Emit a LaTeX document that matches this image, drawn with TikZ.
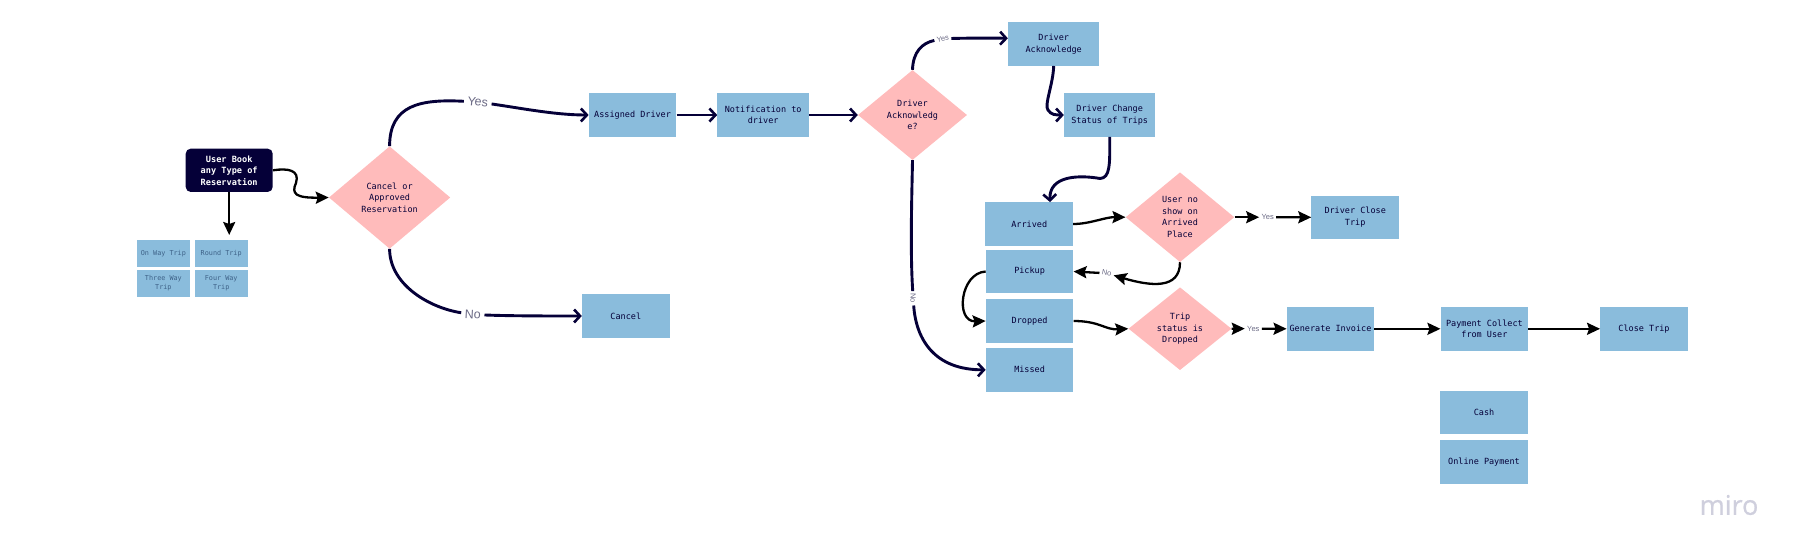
\documentclass[tikz,border=0pt]{standalone}
\usepackage{fontspec}
\setmainfont{Liberation Sans}
\setmonofont{DejaVu Sans Mono}
\usetikzlibrary{arrows.meta,shapes.geometric}
\definecolor{navy}{HTML}{050038}
\definecolor{boxblue}{HTML}{8ABCDC}
\definecolor{diapink}{HTML}{FFBBBB}
\definecolor{smalltxt}{HTML}{3E6288}
\definecolor{labelgray}{HTML}{6B6A85}
\definecolor{mirogray}{HTML}{CFCFDD}
\tikzset{
  boxnode/.style={fill=boxblue,minimum width=87.5pt,minimum height=43.5pt,inner sep=0pt,align=center,text=navy,
    font=\ttfamily\fontsize{8.5}{11.5}\selectfont},
  smallbox/.style={fill=boxblue,minimum width=53.2pt,minimum height=26.7pt,inner sep=0pt,align=center,text=smalltxt,
    font=\ttfamily\fontsize{6.8}{9}\selectfont},
  dianode/.style={fill=diapink,shape=diamond,inner sep=0pt,align=center,text=navy,
    font=\ttfamily\fontsize{8.5}{11.5}\selectfont},
  diatext/.style={align=center,text=navy,font=\ttfamily\fontsize{8.5}{11.5}\selectfont},
  startnode/.style={fill=navy,rounded corners=5pt,minimum width=87pt,minimum height=43.3pt,inner sep=0pt,align=center,text=white,
    font=\ttfamily\bfseries\fontsize{8.6}{11.5}\selectfont},
  biglabel/.style={inner sep=3.5pt,text=labelgray,font=\fontsize{12.5}{14}\selectfont},
  tinylabel/.style={inner sep=2.2pt,text=labelgray,font=\fontsize{7.5}{9}\selectfont},
  navyline/.style={draw=navy,line width=2.9pt,-{Straight Barb[length=6pt,width=13pt,line width=2.6pt]}},
  blackline/.style={draw=black,line width=2.3pt,-{Stealth[length=13pt,width=12pt,inset=2pt]}},
}
\begin{document}
\begin{tikzpicture}[x=1pt,y=-1pt]
\useasboundingbox (0,0) rectangle (1799,555);
% start and its options
\node[startnode] (user) at (229.2,170.3) {User Book\\any Type of\\Reservation};
\node[smallbox] (s1) at (163.4,253.3) {On Way Trip};
\node[smallbox] (s2) at (221.2,253.3) {Round Trip};
\node[smallbox] (s3) at (163.4,283.3) {Three Way\\Trip};
\node[smallbox] (s4) at (221.2,283.3) {Four Way\\Trip};
\coordinate (optend) at (229.2,235);
% first decision
\node[dianode,minimum width=121.3pt,minimum height=102.4pt,shape aspect=1.185] (d1) at (389.6,197.5) {};
\node[diatext] (d1t) at (389.6,197.5) {Cancel or\\Approved\\Reservation};
\node[boxnode] (assigned) at (632.6,115) {Assigned Driver};
\node[boxnode,minimum width=91.6pt] (notify) at (763.2,115) {Notification to\\driver};
\node[boxnode] (cancel) at (625.8,316) {Cancel};
% second decision
\node[dianode,minimum width=109pt,minimum height=90pt,shape aspect=1.21] (d2) at (912.5,115) {};
\node[diatext] (d2t) at (912.5,115) {Driver\\Acknowledg\\e?};
\node[boxnode,minimum width=91.3pt] (dack) at (1053.7,44) {Driver\\Acknowledge};
\node[boxnode,minimum width=91.3pt] (change) at (1109.7,115) {Driver Change\\Status of Trips};
% status column
\node[boxnode] (arrived) at (1029.2,224) {Arrived};
\node[boxnode] (pickup) at (1029.6,271.5) {Pickup};
\node[boxnode] (dropped) at (1029.6,321) {Dropped};
\node[boxnode] (missed) at (1029.6,369.8) {Missed};
% third decision
\node[dianode,minimum width=108.6pt,minimum height=89.7pt,shape aspect=1.21] (d3) at (1180,217.2) {};
\node[diatext] (d3t) at (1180,217.2) {User no\\show on\\Arrived\\Place};
\node[boxnode] (close1) at (1355.2,217.3) {Driver Close\\Trip};
% fourth decision
\node[dianode,minimum width=103pt,minimum height=82.7pt,shape aspect=1.245] (d4) at (1180,328.7) {};
\node[diatext] (d4t) at (1180,328.7) {Trip\\status is\\Dropped};
\node[boxnode] (invoice) at (1330.5,328.8) {Generate Invoice};
\node[boxnode] (payment) at (1484.4,328.8) {Payment Collect\\from User};
\node[boxnode] (closetrip) at (1644,328.8) {Close Trip};
\node[boxnode] (cash) at (1484,412.3) {Cash};
\node[boxnode] (online) at (1484,462) {Online Payment};
% edge labels
\node[biglabel,rotate=-5] (yes1) at (477.8,102) {Yes};
\node[biglabel,rotate=-3] (no1) at (472.8,314.5) {No};
\node[tinylabel,rotate=8] (yes2) at (942.7,38.7) {Yes};
\node[tinylabel,rotate=-90] (no2) at (913.2,298.3) {No};
\node[tinylabel] (yes3) at (1267.7,217.2) {Yes};
\node[tinylabel,rotate=-10] (no3) at (1106.7,273.3) {No};
\node[tinylabel] (yes4) at (1253.3,328.6) {Yes};
\node[font=\fontsize{27}{27}\selectfont,text=mirogray] (miro) at (1729,505) {\fontspec[FakeBold=0.8]{Open Sans}miro};
% connectors
\coordinate (w1) at (296,183);
\draw[blackline] (user.east) .. controls (288,168) and (300,170) .. (w1) .. controls (291,194) and (296,198) .. (d1.west);
\draw[blackline] (user.south) -- (optend);
\draw[navyline] (d1.north) .. controls (389.6,105) and (420,99) .. (yes1) .. controls (520,108) and (555,115) .. (assigned.west);
\draw[navyline] (d1.south) .. controls (389.6,285) and (430,308) .. (no1) .. controls (510,316) and (550,316) .. (cancel.west);
\draw[navyline] (assigned.east) -- (notify.west);
\draw[navyline] (notify.east) -- (d2.west);
\draw[navyline] (d2.north) .. controls (913,52) and (922,43) .. (yes2) .. controls (970,38) and (990,38) .. ([yshift=5.7pt]dack.west);
\draw[navyline] (d2.south) .. controls (912,190) and (910,250) .. (no2) .. controls (916,340) and (935,370) .. (missed.west);
\draw[navyline] (dack.south) .. controls (1053,85) and (1044,105) .. (1048,110) .. controls (1051,115) and (1056,115) .. (change.west);
\draw[navyline] (change.south) .. controls (1110,165) and (1110,178) .. (1100,178.5) .. controls (1080,175) and (1049,175) .. ([xshift=20.8pt]arrived.north);
\draw[blackline] (arrived.east) .. controls (1090,224) and (1105,217) .. (d3.west);
\draw[blackline] (d3.east) -- (yes3);
\draw[blackline] (yes3) -- (close1.west);
\draw[blackline] (d3.south) .. controls (1180,290) and (1150,286) .. (no3);
\draw[blackline] (no3) -- (pickup.east);
\draw[blackline] (pickup.west) .. controls (960,273) and (955,322) .. (dropped.west);
\draw[blackline] (dropped.east) .. controls (1100,321) and (1105,330) .. (d4.west);
\draw[blackline] (d4.east) -- (yes4);
\draw[blackline] (yes4) -- (invoice.west);
\draw[blackline] (invoice.east) -- (payment.west);
\draw[blackline] (payment.east) -- (closetrip.west);
\end{tikzpicture}
\end{document}
